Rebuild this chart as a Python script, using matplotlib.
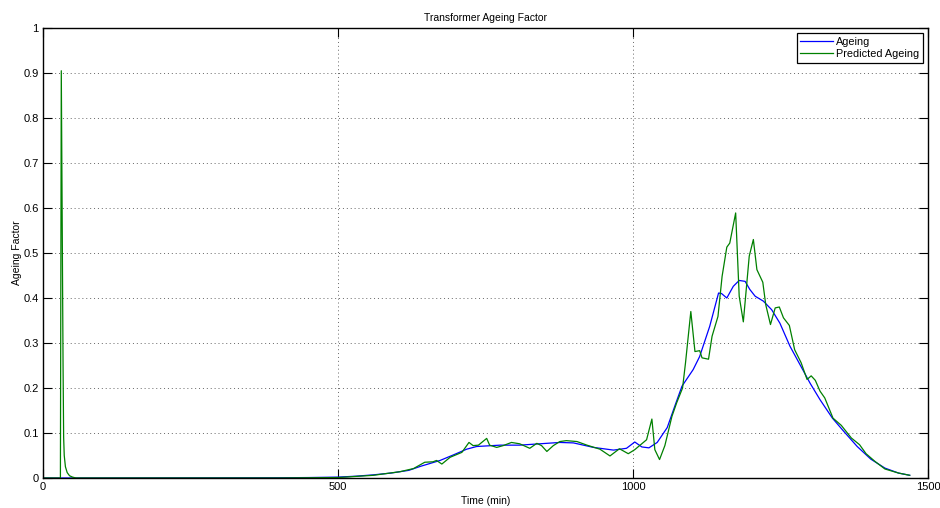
import matplotlib
matplotlib.use("Agg")
import matplotlib.pyplot as plt

plt.rcParams['font.family'] = ['Liberation Sans', 'DejaVu Sans']

# Data
t_ageing = [0, 400, 450, 500, 530, 560, 590, 620, 640, 673, 695, 718, 735, 775, 808,
            842, 876, 899, 933, 967, 989, 1003, 1015, 1027, 1041, 1058, 1072, 1083,
            1102, 1113, 1130, 1145, 1150, 1159, 1170, 1180, 1190, 1198, 1207, 1221,
            1235, 1249, 1266, 1283, 1300, 1317, 1338, 1357, 1380, 1403, 1427, 1450, 1469]
ageing = [0, 0.0005, 0.001, 0.002, 0.004, 0.007, 0.011, 0.017, 0.026, 0.039, 0.051,
          0.064, 0.070, 0.073, 0.073, 0.076, 0.079, 0.078, 0.068, 0.062, 0.066, 0.080,
          0.069, 0.067, 0.079, 0.112, 0.164, 0.204, 0.241, 0.270, 0.337, 0.411, 0.410,
          0.400, 0.426, 0.439, 0.437, 0.419, 0.404, 0.393, 0.374, 0.344, 0.293, 0.252,
          0.211, 0.174, 0.133, 0.104, 0.070, 0.042, 0.022, 0.011, 0.006]

t_pred = [0, 29.5, 31, 34, 35, 36, 38, 41, 45, 50, 56, 400, 500, 560, 605, 628, 647,
          661, 667, 676, 690, 710, 722, 729, 738, 752, 757, 769, 780, 794, 808, 825,
          837, 845, 854, 865, 876, 887, 905, 922, 944, 961, 977, 992, 1003, 1023, 1032,
          1037, 1045, 1054, 1066, 1074, 1084, 1089, 1098, 1105, 1113, 1117, 1128, 1134,
          1144, 1151, 1159, 1164, 1174, 1180, 1187, 1197, 1204, 1210, 1220, 1225, 1233,
          1241, 1248, 1255, 1265, 1274, 1285, 1295, 1302, 1309, 1317, 1325, 1339, 1353,
          1370, 1384, 1395, 1410, 1427, 1450, 1469]
pred = [0, 0, 0.905, 0.25, 0.09, 0.05, 0.025, 0.012, 0.005, 0.002, 0, 0, 0.001, 0.006,
        0.014, 0.021, 0.035, 0.036, 0.039, 0.031, 0.046, 0.057, 0.079, 0.072, 0.073,
        0.088, 0.073, 0.068, 0.072, 0.079, 0.076, 0.066, 0.077, 0.072, 0.059, 0.072,
        0.081, 0.083, 0.081, 0.073, 0.064, 0.049, 0.065, 0.054, 0.063, 0.085, 0.131,
        0.063, 0.041, 0.072, 0.137, 0.167, 0.200, 0.256, 0.370, 0.281, 0.283, 0.267,
        0.264, 0.315, 0.359, 0.448, 0.513, 0.522, 0.589, 0.404, 0.347, 0.493, 0.530,
        0.463, 0.435, 0.385, 0.341, 0.378, 0.380, 0.356, 0.339, 0.285, 0.256, 0.219,
        0.227, 0.217, 0.193, 0.178, 0.133, 0.117, 0.089, 0.074, 0.054, 0.037, 0.020,
        0.011, 0.006]

x_ticks = [0, 500, 1000, 1500]
y_ticks = [0, 0.1, 0.2, 0.3, 0.4, 0.5, 0.6, 0.7, 0.8, 0.9, 1]
y_labels = ['0', '0.1', '0.2', '0.3', '0.4', '0.5', '0.6', '0.7', '0.8', '0.9', '1']

fig = plt.figure(figsize=(9.4, 5.08), dpi=100)
ax = fig.add_axes([43/940, 1 - 478/508, (928 - 43)/940, (478 - 28)/508])

ax.plot(t_ageing, ageing, color='#0000ff', lw=0.9, label='Ageing')
ax.plot(t_pred, pred, color='#008000', lw=0.9, label='Predicted Ageing')

ax.set_xlim(0, 1500)
ax.set_ylim(0, 1)
ax.set_xticks(x_ticks)
ax.set_xticklabels([str(v) for v in x_ticks])
ax.set_yticks(y_ticks)
ax.set_yticklabels(y_labels)
ax.tick_params(direction='in', length=6.5, width=0.8, top=True, right=True,
               labelsize=8, pad=3, colors='black')
for s in ax.spines.values():
    s.set_linewidth(1.0)
ax.grid(True, color='#666666', linestyle=(0, (1, 3)), linewidth=0.7)

ax.set_title('Transformer Ageing Factor', fontsize=7.5, pad=5)
ax.set_xlabel('Time (min)', fontsize=7.5, labelpad=3)
ax.set_ylabel('Ageing Factor', fontsize=7.5, labelpad=1)

leg = ax.legend(loc='upper right', fontsize=7.8, fancybox=False, framealpha=1,
                edgecolor='black', borderaxespad=0.45, handlelength=3.0,
                borderpad=0.35, labelspacing=0.2, handletextpad=0.3)
leg.get_frame().set_linewidth(0.9)

fig.savefig('out.png', dpi=100)
